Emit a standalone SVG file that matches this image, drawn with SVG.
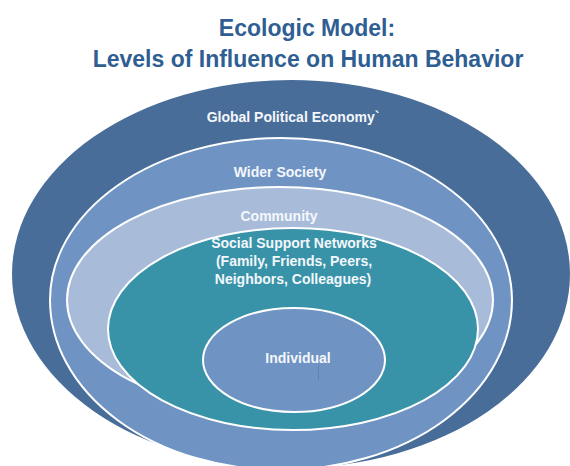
<svg xmlns="http://www.w3.org/2000/svg" width="570" height="466" viewBox="0 0 570 466">
  <style>
    .title { font-family: "Liberation Sans", Arial, sans-serif; font-weight: bold; font-size: 23px; fill: #2E5E92; text-anchor: middle; }
    .lbl { font-family: "Liberation Sans", Arial, sans-serif; font-weight: bold; font-size: 14px; fill: #F4F7FB; text-anchor: middle; }
    .ring { stroke: #FFFFFF; stroke-width: 2; }
  </style>
  <rect width="570" height="466" fill="#FFFFFF"/>
  <g id="title">
    <text class="title" x="307" y="36">Ecologic Model:</text>
    <text class="title" x="308" y="67">Levels of Influence on Human Behavior</text>
  </g>
  <g id="global-political-economy">
    <ellipse cx="291" cy="274" rx="279" ry="194" fill="#496D99"/>
    <text class="lbl" x="293" y="122">Global Political Economy`</text>
  </g>
  <g id="wider-society">
    <path class="ring" fill="#6F94C4" d="M50,300 A231,162 0 0 1 512,300 A231,170 0 0 1 50,300 Z"/>
    <text class="lbl" x="280" y="177">Wider Society</text>
  </g>
  <g id="community">
    <ellipse class="ring" cx="280" cy="300" rx="213" ry="113" fill="#A8BCDA"/>
    <text class="lbl" x="279" y="221">Community</text>
  </g>
  <g id="social-support-networks">
    <ellipse class="ring" cx="293" cy="329" rx="185" ry="101" fill="#3893A9"/>
    <text class="lbl" x="294" y="248">Social Support Networks</text>
    <text class="lbl" x="294" y="266">(Family, Friends, Peers,</text>
    <text class="lbl" x="293" y="284">Neighbors, Colleagues)</text>
  </g>
  <g id="individual">
    <ellipse class="ring" cx="294" cy="360" rx="91" ry="52" fill="#6F94C4"/>
    <text class="lbl" x="298" y="363">Individual</text>
    <line x1="318.5" y1="365" x2="318.5" y2="380" stroke="#5A7DAE" stroke-width="0.8"/>
  </g>
  <g id="connectors"/>
</svg>
